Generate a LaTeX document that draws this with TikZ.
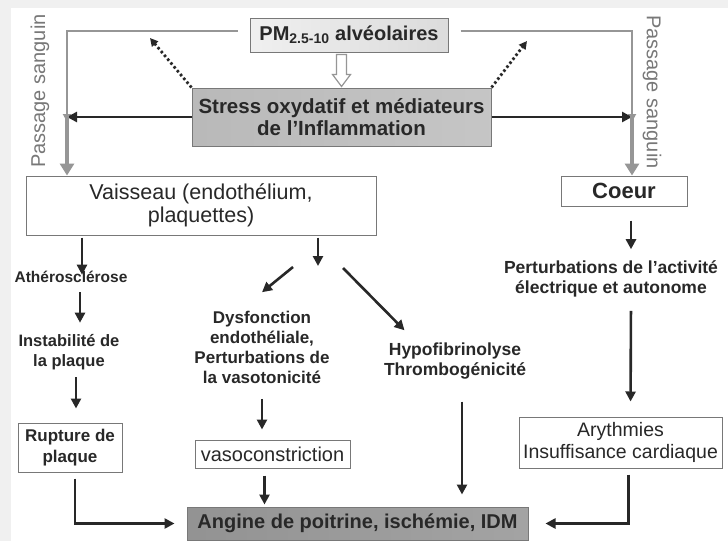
\documentclass[tikz,border=0pt]{standalone}
\usepackage{fontspec}
\setmainfont{Liberation Sans}
\usetikzlibrary{positioning,arrows.meta}
\definecolor{myline}{RGB}{40,40,40}
\definecolor{mygrey}{RGB}{120,120,120}
\definecolor{mylight}{RGB}{150,150,150}

\begin{document}
\begin{tikzpicture}[x=1pt,y=-1pt,
box/.style={
  draw=mygrey,
  line width=1pt,
  fill=white,
  align=center,
  inner sep=0pt,
  text=myline},
lab/.style={
  font={\fontsize{17.5}{20}\selectfont\bfseries},
  align=center,
  text=myline},
boxtext/.style={font={\fontsize{19.5}{22}\selectfont}},
blk/.style={draw=myline,line width=2.6pt,-{Triangle[length=10pt,width=10pt]}},
dotarr/.style={draw=myline,line width=2.8pt,dash pattern=on 2.5pt off 2.5pt,
  -{Triangle[length=8pt,width=8pt]}},
thin/.style={draw=mylight,line width=1.8pt,-{Triangle[length=8pt,width=8pt]}},
fat/.style={draw=mylight,line width=4.5pt,-{Triangle[length=12pt,width=14pt]}},
hollow/.style={draw=mylight,line width=1.2pt,fill=white},
]
% scanned page
\fill[gray!12] (0,0) rectangle (728,541);
\fill[white] (11,8) rectangle (728,541);
\useasboundingbox (0,0) rectangle (728,541);

% top
\node[box,left color=gray!12,right color=gray!28,minimum width=198pt,minimum height=34pt,
  font={\fontsize{20}{22}\selectfont\bfseries}] (pm) at (349,35) {PM\textsubscript{2.5-10} alvéolaires};
\node[box,left color=gray!55,right color=gray!45,minimum width=299pt,minimum height=58pt,
  font={\fontsize{20.5}{21.5}\selectfont\bfseries}] (stress) at (341.5,117)
  {Stress oxydatif et médiateurs\\de l’Inflammation};
\node[box,minimum width=350pt,minimum height=59pt,font={\fontsize{21.5}{23}\selectfont}] (vais) at (201,205.5)
  {Vaisseau (endothélium,\\plaquettes)};
\node[box,minimum width=126pt,minimum height=30pt,font={\fontsize{22}{24}\selectfont\bfseries}] (coeur) at (624,191) {Coeur};
\node[rotate=90,text=mygrey,font={\fontsize{20}{22}\selectfont}] (psl) at (40,91) {Passage sanguin};
\node[rotate=-90,text=mygrey,font={\fontsize{20}{22}\selectfont}] (psr) at (652,92) {Passage sanguin};
\coordinate (lj) at (67,117);
\coordinate (rj) at (632,117);
\coordinate (dl) at (150,38);
\coordinate (dr) at (527,41);

% left branch
\node[lab,font={\fontsize{15.5}{20}\selectfont\bfseries}] (athero) at (71,277) {Athérosclérose};
\node[lab,font={\fontsize{16.5}{20}\selectfont\bfseries}] (instab) at (69,352) {Instabilité de\\la plaque};
\node[box,minimum width=104pt,minimum height=49pt,font={\fontsize{17}{21}\selectfont\bfseries}] (rupt) at (70,447.5) {Rupture de\\plaque};

% middle
\coordinate (split) at (318,266);
\node[lab,font={\fontsize{17}{20}\selectfont\bfseries}] (dysf) at (262,347) {Dysfonction\\endothéliale,\\Perturbations de\\la vasotonicité};
\node[box,boxtext,minimum width=155pt,minimum height=28pt,font={\fontsize{20}{22}\selectfont}] (vaso) at (272.5,454) {vasoconstriction};
\node[lab] (hypo) at (455,361) {Hypofibrinolyse\\Thrombogénicité};

% right
\node[lab] (pert) at (611,279) {Perturbations de l’activité\\électrique et autonome};
\node[box,boxtext,minimum width=203pt,minimum height=51pt] (aryth) at (620.5,442.5) {Arythmies\\Insuffisance cardiaque};

% bottom
\node[box,left color=gray!85,right color=gray!72,minimum width=341pt,minimum height=33pt,
  font={\fontsize{20}{22}\selectfont\bfseries}] (ang) at (357.5,523.5) {Angine de poitrine, ischémie, IDM};

% arrows at the top
\draw[hollow] ([shift={(-5,-33)}]stress.north) -- ++(10,0) -- ++(0,20) -- ++(4,0)
  -- ([shift={(0,-1)}]stress.north) -- ++(-9,-12) -- ++(4,0) -- cycle;
\draw[dotarr] (stress.north west) -- (dl);
\draw[dotarr] (stress.north east) -- (dr);
\draw[thin] ([shift={(-12,-4)}]pm.west) -| ([yshift=-5pt]lj);
\draw[thin] ([shift={(12,-4)}]pm.east) -| ([yshift=-5pt]rj);
\draw[blk] (stress.west |- lj) -- (lj);
\draw[blk] (stress.east |- rj) -- (rj);
\draw[fat] ([yshift=3pt]lj) -- (vais.north -| lj);
\draw[fat] ([yshift=3pt]rj) -- (coeur.north -| rj);

% vessel side
\draw[blk,shorten <=2pt] ([xshift=11pt]vais.south -| athero) -- ([xshift=11pt,yshift=-7pt]athero.north);
\draw[blk,shorten <=6pt,shorten >=8pt] ([xshift=9pt]athero.south) -- ([xshift=11pt]instab.north);
\draw[blk,shorten <=4pt,shorten >=14pt] ([xshift=7pt]instab.south) -- ([xshift=7pt]instab.south |- rupt.north);
\draw[blk,shorten <=6pt] ([xshift=5pt]rupt.south) |- ([xshift=-12pt]ang.west);
\draw[blk,shorten <=2pt] (vais.south -| split) -- (split);
\draw[blk] ([shift={(-25,1)}]split) -- ([shift={(0,-15)}]dysf.north);
\draw[blk] ([shift={(25,2)}]split) -- ([shift={(24,-9)}]hypo.north west);
\draw[blk,shorten <=12pt,shorten >=10pt] (dysf.south) -- (dysf.south |- vaso.north);
\draw[blk,shorten <=7pt,shorten >=2pt] ([xshift=-8pt]vaso.south) -- ([xshift=-8pt]vaso.south |- ang.north);
\draw[blk,shorten <=19pt,shorten >=12pt] ([xshift=7pt]hypo.south) -- ([xshift=7pt]hypo.south |- ang.north);

% heart side
\draw[blk,shorten <=14pt,shorten >=8pt] ([xshift=7pt]coeur.south) -- ([xshift=7pt]coeur.south |- pert.north);
\draw[blk,shorten <=10pt,shorten >=15pt] ([xshift=7pt]coeur.south |- pert.south) -- ([xshift=10pt]aryth.north);
\draw[blk,shorten <=6pt] ([xshift=8pt]aryth.south) |- ([xshift=17pt]ang.east);
\end{tikzpicture}
\end{document}
